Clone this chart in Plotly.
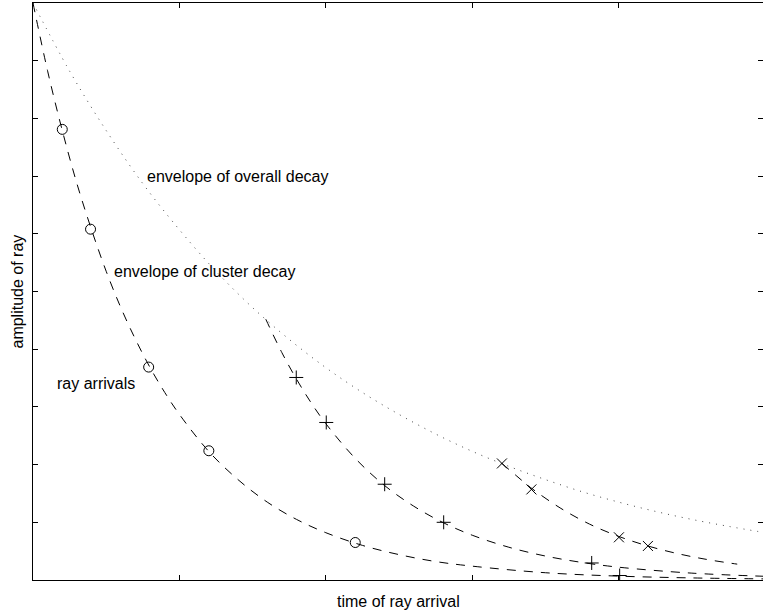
import plotly.graph_objects as go

# overall decay envelope (dotted)
env_x = [0, 0.25, 0.5, 0.75, 1, 1.25, 1.5, 1.75, 2, 2.25, 2.5, 2.75, 3, 3.25, 3.5, 3.75, 4, 4.25, 4.5, 4.75, 5]
env_y = [1.000, 0.882, 0.779, 0.687, 0.607, 0.535, 0.472, 0.417, 0.368, 0.325, 0.287, 0.253, 0.223, 0.197,
         0.174, 0.153, 0.135, 0.119, 0.105, 0.093, 0.082]

# cluster decay envelopes (dashed)
c1_x = [0, 0.1, 0.2, 0.3, 0.4, 0.5, 0.6, 0.7, 0.8, 0.9, 1.0, 1.2, 1.4, 1.6, 1.8, 2.0, 2.25, 2.5, 2.75, 3.0, 3.5, 4.0, 4.5, 5.0]
c1_y = [1.0, 0.882, 0.779, 0.687, 0.607, 0.535, 0.472, 0.417, 0.368, 0.325, 0.287, 0.223, 0.174, 0.135, 0.105,
        0.082, 0.060, 0.044, 0.032, 0.024, 0.0126, 0.0067, 0.0036, 0.0019]

c2_x = [1.59, 1.7, 1.8, 1.9, 2.0, 2.2, 2.4, 2.6, 2.8, 3.0, 3.25, 3.5, 3.75, 4.0, 4.5, 5.0]
c2_y = [0.452, 0.394, 0.348, 0.307, 0.271, 0.211, 0.164, 0.128, 0.0996, 0.0776, 0.0568, 0.0415, 0.0304, 0.0222,
        0.0119, 0.0064]

c3_x = [3.203, 3.3, 3.4, 3.6, 3.8, 4.0, 4.2, 4.4, 4.6, 4.81]
c3_y = [0.202, 0.181, 0.160, 0.125, 0.097, 0.0756, 0.0589, 0.0459, 0.0357, 0.0275]

# ray arrivals
circ_x = [0.200, 0.393, 0.790, 1.201, 2.201]
circ_y = [0.781, 0.608, 0.369, 0.224, 0.065]
plus_x = [1.798, 2.003, 2.402, 2.805, 3.816, 4.007]
plus_y = [0.351, 0.273, 0.166, 0.100, 0.0295, 0.0078]
cross_x = [3.203, 3.404, 4.002, 4.200]
cross_y = [0.202, 0.157, 0.074, 0.059]

x_ticks = [1, 2, 3, 4]
y_ticks = [0.1, 0.2, 0.3, 0.4, 0.5, 0.6, 0.7, 0.8, 0.9]

FONT = "Liberation Sans, Arial, sans-serif"
fig = go.Figure()

fig.add_trace(go.Scatter(x=env_x, y=env_y, mode="lines", line_shape="spline",
                         line=dict(color="#444", width=1, dash="1px,6px"), hoverinfo="skip"))
for xs, ys in [(c1_x, c1_y), (c2_x, c2_y), (c3_x, c3_y)]:
    fig.add_trace(go.Scatter(x=xs, y=ys, mode="lines", line_shape="spline",
                             line=dict(color="black", width=1, dash="9px,8px"), hoverinfo="skip"))

for xs, ys, sym in [(circ_x, circ_y, "circle-open"), (plus_x, plus_y, "cross-thin-open"),
                    (cross_x, cross_y, "x-thin-open")]:
    fig.add_trace(go.Scatter(x=xs, y=ys, mode="markers",
                             marker=dict(symbol=sym, size=10, color="black",
                                         line=dict(color="black", width=1))))

# invisible trace so the right-hand tick axis is drawn
fig.add_trace(go.Scatter(x=env_x, y=env_y, yaxis="y2", mode="markers",
                         marker=dict(opacity=0), hoverinfo="skip"))

annots = [
    dict(x=0.762, y=0.700, text="envelope of overall decay", xanchor="left", yanchor="middle"),
    dict(x=0.538, y=0.534, text="envelope of cluster decay", xanchor="left", yanchor="middle"),
    dict(x=0.148, y=0.341, text="ray arrivals", xanchor="left", yanchor="middle"),
]
for a in annots:
    fig.add_annotation(xref="x", yref="y", showarrow=False, font=dict(family=FONT, size=16, color="black"), **a)

fig.add_annotation(xref="paper", yref="paper", x=0.5, y=-0.0364, text="time of ray arrival",
                   showarrow=False, xanchor="center", yanchor="middle",
                   font=dict(family=FONT, size=16, color="black"))
fig.add_annotation(xref="paper", yref="paper", x=-0.0219, y=0.5, text="amplitude of ray",
                   showarrow=False, xanchor="center", yanchor="middle", textangle=-90,
                   font=dict(family=FONT, size=16, color="black"))

fig.update_layout(
    width=763, height=615,
    margin=dict(l=33, r=0, t=3, b=35),
    paper_bgcolor="white", plot_bgcolor="white",
    showlegend=False,
    xaxis=dict(range=[0, 4.986], showgrid=False, zeroline=False, showline=True, mirror="ticks",
               linecolor="black", linewidth=1, ticks="inside", ticklen=5, tickcolor="black",
               tickvals=x_ticks, showticklabels=False),
    yaxis=dict(range=[0, 1], showgrid=False, zeroline=False, showline=True, mirror=False,
               linecolor="black", linewidth=1, ticks="inside", ticklen=5, tickcolor="black",
               tickvals=y_ticks, showticklabels=False),
    yaxis2=dict(range=[0, 1], overlaying="y", side="right", showgrid=False, zeroline=False,
                showline=False, ticks="inside", ticklen=5, tickcolor="black",
                tickvals=y_ticks, showticklabels=False),
)

fig.write_html("out.html")
